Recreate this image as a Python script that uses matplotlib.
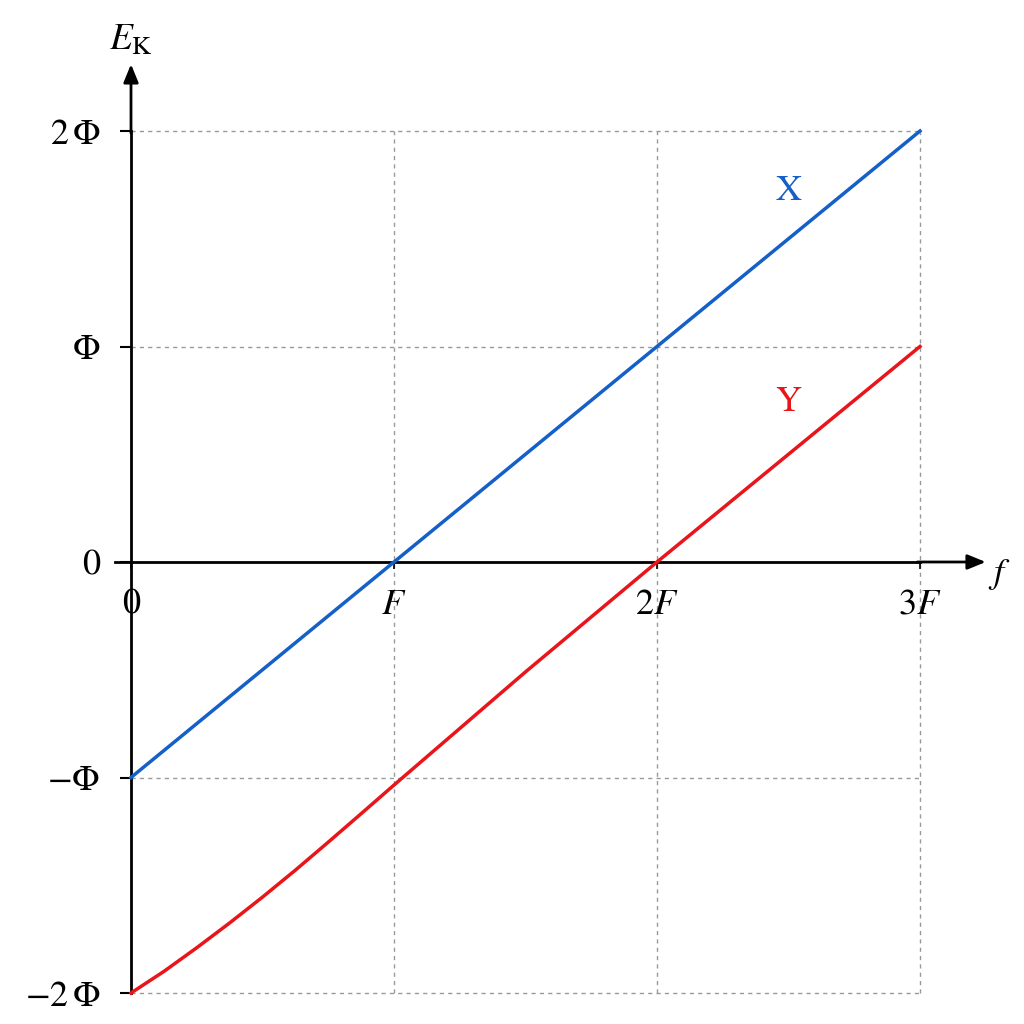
import numpy as np
import matplotlib.pyplot as plt

# --- dados (f em unidades de F, E_K em unidades de Φ) ---
f_x = [0, 1, 2, 3]
ek_x = [-1, 0, 1, 2]

f_y = [0, 0.125, 0.25, 0.375, 0.5, 0.625, 0.75, 0.875, 1.0, 1.5, 2.0, 2.5, 3.0]
ek_y = [-2, -1.90, -1.79, -1.675, -1.555, -1.43, -1.30, -1.168, -1.035,
        -0.51, 0, 0.5, 1.0]

xticks = [0, 1, 2, 3]
xtick_labels = ['0', '$F$', '$2F$', '$3F$']
yticks = [-2, -1, 0, 1, 2]
ytick_labels = [r'$-2\,\Phi$', r'$-\Phi$', '0', r'$\Phi$', r'$2\,\Phi$']

azul = '#1560c8'
vermelho = '#e8151b'

plt.rcParams['font.family'] = ['STIXGeneral', 'DejaVu Serif']
plt.rcParams['mathtext.fontset'] = 'stix'

fig = plt.figure(figsize=(10.24, 10.24), dpi=100)
ax = fig.add_axes([131/1024, 31/1024, 789/1024, 862/1024])

ax.set_xlim(0, 3)
ax.set_ylim(-2, 2)

# eixos com setas
for s in ['top', 'right']:
    ax.spines[s].set_visible(False)
ax.spines['bottom'].set_position(('data', 0))
ax.spines['left'].set_linewidth(2)
ax.spines['bottom'].set_linewidth(2)
ax.spines['bottom'].set_bounds(-0.06, 3)
ax.annotate('', xy=(3.25, 0), xytext=(2.99, 0),
            arrowprops=dict(arrowstyle='-|>,head_length=1.1,head_width=0.45',
                            color='black', lw=2, shrinkA=0, shrinkB=0),
            annotation_clip=False)
ax.annotate('', xy=(0, 2.31), xytext=(0, 1.99),
            arrowprops=dict(arrowstyle='-|>,head_length=1.1,head_width=0.45',
                            color='black', lw=2, shrinkA=0, shrinkB=0),
            annotation_clip=False)

ax.set_xticks(xticks)
ax.set_xticklabels(xtick_labels)
ax.set_yticks(yticks)
ax.set_yticklabels(ytick_labels)
ax.tick_params(axis='x', direction='out', length=5, width=1.2, pad=14, labelsize=26)
ax.tick_params(axis='y', direction='out', length=8, width=1.5, pad=14, labelsize=26)

# grade tracejada (sem recorte, para aparecer nas bordas)
ax.grid(True, ls=(0, (3, 3)), color='0.6', lw=1.0)
ax.set_axisbelow(True)
for g in ax.get_xgridlines() + ax.get_ygridlines():
    g.set_clip_on(False)

# retas
ax.plot(f_x, ek_x, color=azul, lw=2.5, clip_on=False, zorder=3)
ax.plot(f_y, ek_y, color=vermelho, lw=2.5, clip_on=False, zorder=3)

ax.text(2.5, 1.72, 'X', color=azul, fontsize=26, ha='center', va='center')
ax.text(2.5, 0.74, 'Y', color=vermelho, fontsize=26, ha='center', va='center')

ax.text(0.0, 2.42, r'$E_{\mathrm{K}}$', fontsize=27, ha='center', va='center')
ax.text(3.3, -0.06, '$f$', fontsize=26, ha='center', va='center')

fig.savefig('out.png', dpi=100)
